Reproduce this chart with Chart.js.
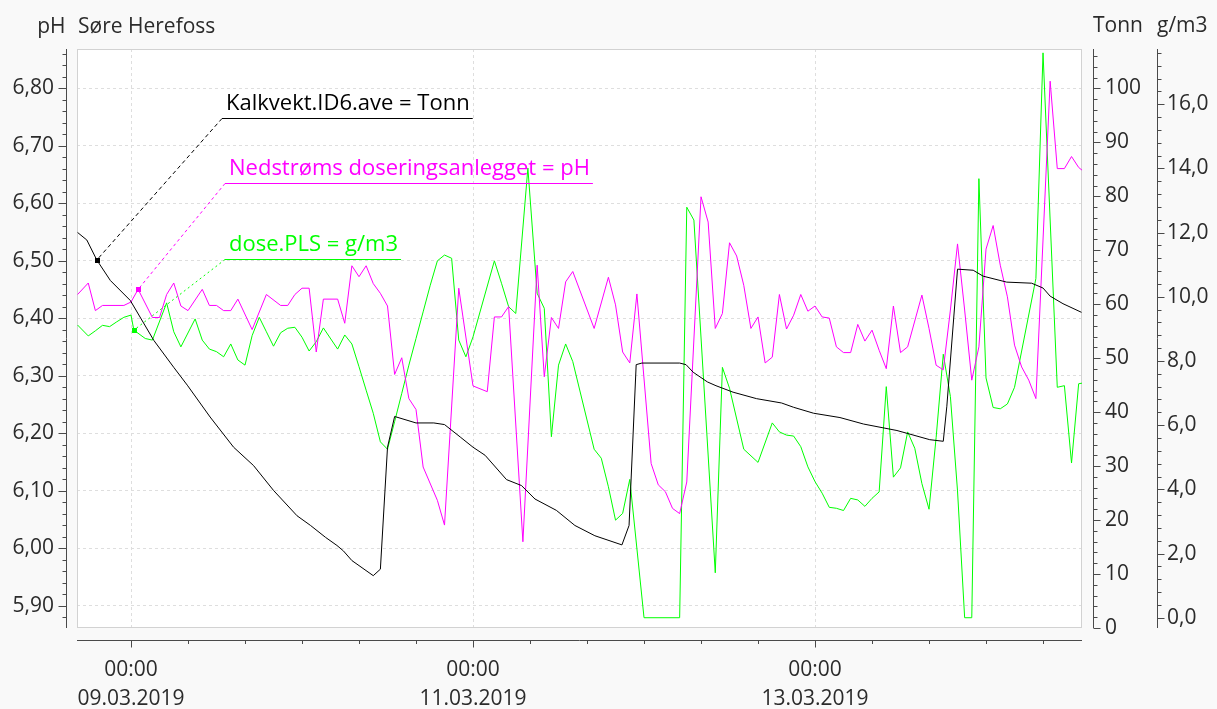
<!DOCTYPE html>
<html>
<head>
<meta charset="utf-8">
<title>Søre Herefoss</title>
<script src="https://cdn.jsdelivr.net/npm/chart.js@4.4.1/dist/chart.umd.min.js"></script>
<style>
  html, body { margin: 0; padding: 0; background: #f9f9f9; }
  #wrap { width: 1217px; height: 709px; }
</style>
</head>
<body>
<div id="wrap"><canvas id="chart" width="1217" height="709"></canvas></div>
<script>
// Time is given in hours relative to 09.03.2019 00:00.

// Kalkvekt.ID6.ave [Tonn]
const kalkSeries = [
  [-7.5, 73.3], [-6.2, 71.9], [-4.8, 68.2], [-2.9, 64.4], [-0.1, 60.7], [3.2, 53.3], [6, 48.3],
  [7.9, 45.0], [11.1, 39.1], [14.4, 33.5], [17.2, 30.1], [20, 25.5], [23.3, 20.8], [25.2, 19.0],
  [27.3, 16.8], [28.9, 15.3], [29.8, 14.3], [31, 12.5], [34, 9.7], [35, 10.9], [36, 33.5],
  [37, 39.2], [40, 38.0], [42.5, 38.0], [44, 37.7], [46.2, 35.4], [48, 33.5], [49.7, 32.0],
  [52.7, 27.5], [54.8, 26.4], [56.7, 23.9], [59.7, 21.8], [62.3, 19.0], [65.1, 17.1], [68.9, 15.4],
  [69.9, 19.0], [70.9, 48.8], [71.7, 49.1], [77, 49.1], [77.9, 48.8], [78.9, 47.4], [80.9, 45.6],
  [82.1, 44.9], [84.5, 43.7], [87.8, 42.5], [91.3, 41.7], [93, 40.9], [95.8, 39.8], [99.5, 39.0],
  [102.8, 37.8], [107.5, 36.6], [112.1, 34.9], [114, 34.6], [114.5, 41.1], [116, 66.5], [118.2, 66.3],
  [119.6, 65.2], [122.9, 64.1], [126.4, 63.9], [128, 63.0], [129, 61.5], [130.8, 60.1], [133.4, 58.5]
];

// Nedstrøms doseringsanlegget [pH]
const phSeries = [
  [-7.5, 6.441], [-6, 6.461], [-5, 6.413], [-4, 6.422], [-1, 6.422], [0, 6.428], [1, 6.450],
  [3, 6.401], [4, 6.401], [5, 6.441], [6, 6.461], [7, 6.421], [8, 6.413], [10, 6.450], [11, 6.422],
  [12, 6.422], [13, 6.413], [14, 6.413], [15, 6.433], [17, 6.380], [19, 6.441], [21, 6.422],
  [22, 6.422], [23, 6.441], [24, 6.452], [25, 6.452], [26, 6.341], [27, 6.433], [29, 6.433],
  [30, 6.391], [31, 6.491], [32, 6.472], [33, 6.491], [34, 6.460], [35, 6.443], [36, 6.421],
  [37, 6.302], [38, 6.331], [39, 6.260], [40, 6.241], [41, 6.141], [43, 6.083], [44, 6.040],
  [46, 6.452], [48, 6.282], [50, 6.272], [51, 6.402], [52, 6.402], [53, 6.420], [55, 6.011],
  [57, 6.492], [58, 6.298], [59, 6.401], [60, 6.382], [61, 6.463], [62, 6.481], [65, 6.382],
  [67, 6.471], [68, 6.423], [69, 6.341], [70, 6.322], [71, 6.442], [73, 6.147], [74, 6.110],
  [75, 6.098], [76, 6.069], [77, 6.060], [78, 6.115], [80, 6.611], [81, 6.567], [82, 6.382],
  [83, 6.408], [84, 6.531], [85, 6.508], [86, 6.457], [87, 6.382], [88, 6.402], [89, 6.322],
  [90, 6.332], [91, 6.441], [92, 6.381], [93, 6.405], [94, 6.441], [95, 6.412], [96, 6.421],
  [97, 6.402], [98, 6.400], [99, 6.350], [100, 6.340], [101, 6.340], [102, 6.389], [103, 6.360],
  [104, 6.379], [105, 6.344], [106, 6.312], [107, 6.421], [108, 6.340], [109, 6.350], [111, 6.440],
  [112, 6.382], [113, 6.318], [114, 6.310], [115, 6.414], [116, 6.529], [117, 6.414], [118, 6.292],
  [119, 6.350], [120, 6.520], [121, 6.561], [122, 6.492], [123, 6.437], [124, 6.353], [125, 6.315],
  [126, 6.292], [127, 6.260], [129, 6.812], [130, 6.660], [131, 6.660], [132, 6.681], [133, 6.662],
  [133.5, 6.657]
];

// dose.PLS [g/m3]
const doseSeries = [
  [-7.5, 9.12], [-6, 8.78], [-5, 8.94], [-4, 9.11], [-3, 9.07], [-2, 9.22], [-1, 9.36], [0, 9.43],
  [0.4, 8.96], [2, 8.70], [3, 8.65], [5, 9.81], [6, 8.91], [7, 8.44], [9, 9.31], [10, 8.65],
  [11, 8.37], [12, 8.29], [13, 8.13], [14, 8.53], [15, 8.03], [16, 7.87], [17, 8.79], [18, 9.36],
  [19, 8.91], [20, 8.46], [21, 8.88], [22, 9.02], [23, 9.05], [24, 8.74], [25, 8.31], [26, 8.60],
  [27, 9.03], [29, 8.37], [30, 8.81], [31, 8.53], [32, 7.82], [33, 7.09], [34, 6.37], [35, 5.48],
  [36, 5.25], [37, 6.11], [38, 6.99], [39, 7.87], [40, 8.70], [41, 9.53], [42, 10.36], [43, 11.12],
  [44, 11.30], [45, 11.20], [46, 8.65], [47, 8.13], [48, 8.75], [51, 11.12], [52, 10.42], [53, 9.69],
  [54, 9.48], [55.7, 14.01], [57, 10.11], [58, 9.64], [59, 5.64], [60, 7.87], [61, 8.53], [62, 7.98],
  [65, 5.25], [66, 4.97], [67, 4.08], [68, 3.04], [69, 3.25], [70, 4.31], [72, 0], [77, 0],
  [78, 12.79], [79, 12.39], [82, 1.40], [83, 7.80], [84, 7.15], [86, 5.25], [88, 4.84], [90, 6.07],
  [91, 5.79], [92, 5.69], [93, 5.66], [94, 5.33], [95, 4.70], [96, 4.24], [97, 3.88], [98, 3.44],
  [99, 3.41], [100, 3.34], [101, 3.72], [102, 3.67], [103, 3.47], [104, 3.72], [105, 3.92],
  [106, 7.20], [107, 4.38], [108, 4.67], [109, 5.79], [110, 5.28], [111, 4.18], [112, 3.38],
  [113, 5.62], [114, 8.21], [115, 6.89], [116, 3.95], [117, 0], [118, 0], [119, 13.68], [120, 7.47],
  [121, 6.55], [122, 6.51], [123, 6.66], [124, 7.18], [127, 10.57], [128, 17.6], [130, 7.18],
  [131, 7.23], [132, 4.82], [133, 7.29], [133.5, 7.31]
];

// Axis ticks and labels
const xLabelHours = [0, 48, 96];
const xLabelTimes = ['00:00', '00:00', '00:00'];
const xLabelDates = ['09.03.2019', '11.03.2019', '13.03.2019'];
const phTickValues = [5.9, 6.0, 6.1, 6.2, 6.3, 6.4, 6.5, 6.6, 6.7, 6.8];
const phTickLabels = ['5,90', '6,00', '6,10', '6,20', '6,30', '6,40', '6,50', '6,60', '6,70', '6,80'];
const tonnTickValues = [0, 10, 20, 30, 40, 50, 60, 70, 80, 90, 100];
const tonnTickLabels = ['0', '10', '20', '30', '40', '50', '60', '70', '80', '90', '100'];
const doseTickValues = [0, 2, 4, 6, 8, 10, 12, 14, 16];
const doseTickLabels = ['0,0', '2,0', '4,0', '6,0', '8,0', '10,0', '12,0', '14,0', '16,0'];

const FONT = "'Open Sans', 'Noto Sans', 'DejaVu Sans', sans-serif";
const AXIS_FONT_SIZE = 21;
const NOTE_FONT_SIZE = 22;
const TEXT = '#2b2b2b';
const AXIS = '#4a4a4a';
const C_KALK = '#000000';
const C_PH = '#ff00ff';
const C_DOSE = '#00ff00';

const toPoints = s => s.map(([x, y]) => ({ x, y }));

// Minor tick spacing for the hand-drawn axis rulers
const rulers = {
  x:     { minor: 8 },
  yPh:   { minor: 0.02 },
  yTonn: { minor: 2 },
  yDose: { minor: 0.4 }
};

function ticksBetween(min, max, step) {
  const out = [];
  const start = Math.ceil(min / step - 1e-6);
  const end = Math.floor(max / step + 1e-6);
  for (let k = start; k <= end; k++) out.push(+(k * step).toFixed(6));
  return out;
}

// Series labels with leader lines, anchored to a data point
const notes = [
  { ds: 0, idx: 2, text: 'Kalkvekt.ID6.ave = Tonn', color: '#000000', dx: 145, dy: 69, dash: [4, 3] },
  { ds: 1, idx: 6, text: 'Nedstrøms doseringsanlegget = pH', color: C_PH, dx: 148, dy: 134, dash: [3, 3] },
  { ds: 2, idx: 8, text: 'dose.PLS = g/m3', color: C_DOSE, dx: 148, dy: 210, dash: [2, 3] }
];

const framePlugin = {
  id: 'frame',
  beforeDraw(chart) {
    const { ctx, chartArea: a } = chart;
    ctx.save();
    ctx.fillStyle = '#f9f9f9';
    ctx.fillRect(0, 0, chart.width, chart.height);
    ctx.fillStyle = '#ffffff';
    ctx.fillRect(a.left, a.top, a.right - a.left, a.bottom - a.top);
    ctx.restore();
  },
  beforeDatasetsDraw(chart) {
    const { ctx, chartArea: a } = chart;
    ctx.save();
    ctx.strokeStyle = '#d2d2d2';
    ctx.lineWidth = 1;
    ctx.strokeRect(a.left + 0.5, a.top + 0.5, a.right - a.left - 1, a.bottom - a.top - 1);
    ctx.restore();
  },
  afterDatasetsDraw(chart) {
    const { ctx } = chart;
    ctx.save();
    ctx.font = NOTE_FONT_SIZE + 'px ' + FONT;
    ctx.textBaseline = 'alphabetic';
    notes.forEach(n => {
      const el = chart.getDatasetMeta(n.ds).data[n.idx];
      const a = chart.chartArea;
      const ux = a.left + n.dx, uy = a.top + n.dy;
      const w = ctx.measureText(n.text).width;
      ctx.strokeStyle = n.color;
      ctx.fillStyle = n.color;
      ctx.lineWidth = 1;
      // leader
      ctx.setLineDash(n.dash);
      ctx.beginPath();
      ctx.moveTo(ux, uy + 0.5);
      ctx.lineTo(el.x, el.y);
      ctx.stroke();
      ctx.setLineDash([]);
      // underline
      ctx.beginPath();
      ctx.moveTo(ux, uy + 0.5);
      ctx.lineTo(ux + w + 7, uy + 0.5);
      ctx.stroke();
      // marker
      ctx.fillRect(Math.round(el.x) - 2, Math.round(el.y) - 2, 5, 5);
      // text
      ctx.fillText(n.text, ux + 4, uy - 8);
    });
    ctx.restore();
  },
  afterDraw(chart) {
    const { ctx, chartArea: a, scales } = chart;
    ctx.save();
    ctx.strokeStyle = AXIS;
    ctx.lineWidth = 1;
    const line = (x1, y1, x2, y2) => { ctx.beginPath(); ctx.moveTo(x1, y1); ctx.lineTo(x2, y2); ctx.stroke(); };

    // bottom time ruler
    const xs = scales.x, xy = a.bottom + 12.5;
    line(a.left, xy, a.right, xy);
    ticksBetween(xs.min, xs.max, rulers.x.minor).forEach(v => {
      const px = Math.round(xs.getPixelForValue(v)) + 0.5;
      const major = xLabelHours.includes(v);
      line(px, xy, px, xy + (major ? 7 : 3.5));
    });

    // left pH ruler
    const yp = scales.yPh, lx = a.left - 10.5;
    line(lx, a.top, lx, a.bottom);
    ticksBetween(yp.min, yp.max, rulers.yPh.minor).forEach(v => {
      const py = Math.round(yp.getPixelForValue(v)) + 0.5;
      const major = phTickValues.some(t => Math.abs(t - v) < 1e-6);
      line(lx - (major ? 8 : 4), py, lx, py);
    });

    // right rulers
    [['yTonn', tonnTickValues], ['yDose', doseTickValues]].forEach(([id, majors]) => {
      const s = scales[id];
      const rx = s.left + 11.5;
      line(rx, a.top, rx, a.bottom);
      ticksBetween(s.min, s.max, rulers[id].minor).forEach(v => {
        const py = Math.round(s.getPixelForValue(v)) + 0.5;
        const major = majors.some(t => Math.abs(t - v) < 1e-6);
        line(rx, py, rx + (major ? 7 : 4), py);
      });
    });

    // axis titles
    ctx.fillStyle = TEXT;
    ctx.font = AXIS_FONT_SIZE + 'px ' + FONT;
    ctx.textBaseline = 'alphabetic';
    ctx.textAlign = 'right';
    ctx.fillText('pH', lx - 1, 33);
    ctx.textAlign = 'left';
    ctx.fillText('Søre Herefoss', a.left + 1, 33);
    ctx.fillText('Tonn', scales.yTonn.left + 11, 32);
    ctx.fillText('g/m3', scales.yDose.left + 11, 32);
    ctx.restore();
  }
};

Chart.defaults.font.family = FONT;
Chart.defaults.font.size = AXIS_FONT_SIZE;
Chart.defaults.color = TEXT;

new Chart(document.getElementById('chart'), {
  type: 'line',
  data: {
    datasets: [
      { label: 'Kalkvekt.ID6.ave', data: toPoints(kalkSeries), yAxisID: 'yTonn',
        borderColor: C_KALK, borderWidth: 1, pointRadius: 0, tension: 0 },
      { label: 'Nedstrøms doseringsanlegget', data: toPoints(phSeries), yAxisID: 'yPh',
        borderColor: C_PH, borderWidth: 1, pointRadius: 0, tension: 0 },
      { label: 'dose.PLS', data: toPoints(doseSeries), yAxisID: 'yDose',
        borderColor: C_DOSE, borderWidth: 1, pointRadius: 0, tension: 0 }
    ]
  },
  options: {
    responsive: false,
    animation: false,
    events: [],
    layout: { padding: { top: 49, left: 0, right: 0, bottom: 0 } },
    plugins: { legend: { display: false }, tooltip: { enabled: false } },
    scales: {
      x: {
        type: 'linear', position: 'bottom', min: -7.58, max: 133.47,
        afterBuildTicks: s => { s.ticks = xLabelHours.map(v => ({ value: v })); },
        afterFit: s => { s.height = 81; },
        ticks: {
          autoSkip: false, maxRotation: 0, padding: 28,
          font: { size: AXIS_FONT_SIZE, lineHeight: '29px' },
          callback: (v, i) => [xLabelTimes[i], xLabelDates[i]]
        },
        grid: { drawTicks: false, color: '#dedede', lineWidth: 1 },
        border: { display: false, dash: [3, 3] }
      },
      yPh: {
        type: 'linear', position: 'left', min: 5.861, max: 6.868,
        afterBuildTicks: s => { s.ticks = phTickValues.map(v => ({ value: v })); },
        afterFit: s => { s.width = 77; },
        ticks: { autoSkip: false, padding: 23, callback: (v, i) => phTickLabels[i] },
        grid: { drawTicks: false, color: '#dedede', lineWidth: 1 },
        border: { display: false, dash: [3, 3] }
      },
      yTonn: {
        type: 'linear', position: 'right', weight: 0, min: 0, max: 107.3,
        afterBuildTicks: s => { s.ticks = tonnTickValues.map(v => ({ value: v })); },
        afterFit: s => { s.width = 64; },
        ticks: { autoSkip: false, padding: 23, callback: (v, i) => tonnTickLabels[i] },
        grid: { display: false, drawTicks: false },
        border: { display: false }
      },
      yDose: {
        type: 'linear', position: 'right', weight: 1, min: -0.32, max: 17.72,
        afterBuildTicks: s => { s.ticks = doseTickValues.map(v => ({ value: v })); },
        afterFit: s => { s.width = 71; },
        ticks: { autoSkip: false, padding: 21, callback: (v, i) => doseTickLabels[i] },
        grid: { display: false, drawTicks: false },
        border: { display: false }
      }
    }
  },
  plugins: [framePlugin]
});
</script>
</body>
</html>
